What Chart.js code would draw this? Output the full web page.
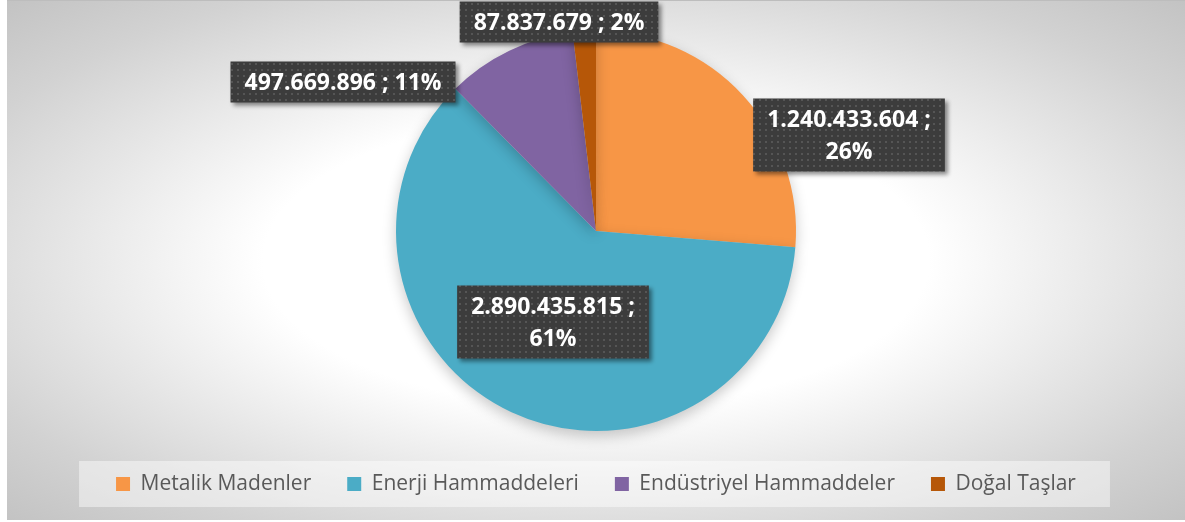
<!DOCTYPE html>
<html>
<head>
<meta charset="utf-8">
<script src="https://cdn.jsdelivr.net/npm/chart.js@4.4.0/dist/chart.umd.min.js"></script>
<style>
  html, body { margin: 0; padding: 0; background: #fff; }
  #wrap {
    position: absolute; left: 7px; top: 0; width: 1178px; height: 520px;
    border-top: 1px solid #bdbdbd; box-sizing: border-box;
    background: radial-gradient(ellipse farthest-corner at 50% 50%, #ffffff 0%, #ffffff 40%, #e4e4e4 65%, #d2d2d2 82%, #c3c3c3 100%);
  }
  canvas { display: block; }
</style>
</head>
<body>
<div id="wrap"><canvas id="pie" width="1178" height="519"></canvas></div>
<script>
const categories = ['Metalik Madenler', 'Enerji Hammaddeleri', 'Endüstriyel Hammaddeler', 'Doğal Taşlar'];
const values = [1240433604, 2890435815, 497669896, 87837679];
const colors = ['#F79646', '#4BACC6', '#8064A2', '#B65708'];

// label box centers, in pie-radius units from the pie centre
const labelLayout = [
    { x: 1.265, y: -0.48, wrap: true },
    { x: -0.215, y: 0.455, wrap: true },
    { x: -1.265, y: -0.745, wrap: false },
    { x: -0.185, y: -1.045, wrap: false },
];

const fmt = (v) => v.toString().replace(/\B(?=(\d{3})+(?!\d))/g, '.');

function makePattern(ctx) {
    const p = document.createElement('canvas');
    p.width = 6; p.height = 6;
    const pc = p.getContext('2d');
    pc.fillStyle = '#3c3c3c';
    pc.fillRect(0, 0, 6, 6);
    pc.fillStyle = '#555555';
    pc.fillRect(2, 2, 2, 2);
    return ctx.createPattern(p, 'repeat');
}

const pieShadow = {
    id: 'pieShadow',
    beforeDatasetDraw(chart) {
        const ctx = chart.ctx;
        ctx.save();
        ctx.shadowColor = 'rgba(0,0,0,0.22)';
        ctx.shadowBlur = 14;
        ctx.shadowOffsetY = 5;
    },
    afterDatasetDraw(chart) {
        chart.ctx.restore();
    }
};

const legendBox = {
    id: 'legendBox',
    beforeDraw(chart) {
        const lg = chart.legend;
        if (!lg || !lg.legendHitBoxes.length) return;
        const boxes = lg.legendHitBoxes;
        const left = boxes[0].left - 37;
        const right = boxes[boxes.length - 1].left + boxes[boxes.length - 1].width + 34;
        const cy = boxes[0].top + boxes[0].height / 2;
        const ctx = chart.ctx;
        ctx.save();
        ctx.fillStyle = 'rgba(255,255,255,0.45)';
        ctx.fillRect(left, cy - 23, right - left, 46);
        ctx.restore();
    }
};

const valueLabels = {
    id: 'valueLabels',
    afterDatasetsDraw(chart) {
        const ctx = chart.ctx;
        const meta = chart.getDatasetMeta(0);
        const total = values.reduce((a, b) => a + b, 0);
        const pattern = makePattern(ctx);
        ctx.save();
        ctx.font = 'bold 23px "Open Sans"';
        ctx.textAlign = 'center';
        ctx.textBaseline = 'middle';
        meta.data.forEach((arc, i) => {
            const lay = labelLayout[i];
            const r = arc.outerRadius;
            const cx = arc.x + lay.x * r;
            const cy = arc.y + lay.y * r;
            const pct = Math.round(values[i] / total * 100) + '%';
            const lines = lay.wrap ? [fmt(values[i]) + ' ;', pct] : [fmt(values[i]) + ' ; ' + pct];
            const lineH = 32;
            const w = Math.max(...lines.map(l => ctx.measureText(l).width)) + 28;
            const h = lines.length * lineH + 9;
            ctx.save();
            ctx.shadowColor = 'rgba(0,0,0,0.45)';
            ctx.shadowBlur = 4;
            ctx.shadowOffsetX = 3;
            ctx.shadowOffsetY = 3;
            ctx.fillStyle = pattern;
            ctx.fillRect(cx - w / 2, cy - h / 2, w, h);
            ctx.restore();
            ctx.fillStyle = '#ffffff';
            lines.forEach((l, k) => {
                ctx.fillText(l, cx, cy - h / 2 + 4.5 + lineH * k + lineH / 2 + 1);
            });
        });
        ctx.restore();
    }
};

new Chart(document.getElementById('pie').getContext('2d'), {
    type: 'pie',
    data: {
        labels: categories,
        datasets: [{
            data: values,
            backgroundColor: colors,
            borderWidth: 0,
        }]
    },
    options: {
        responsive: false,
        animation: false,
        layout: { padding: { top: 30, bottom: 15.5 } },
        plugins: {
            legend: {
                position: 'bottom',
                title: { display: true, text: '', font: { size: 1 }, padding: { top: 5.3, bottom: 0 } },
                labels: {
                    boxWidth: 14,
                    boxHeight: 14,
                    padding: 36,
                    color: '#595959',
                    font: { family: '"Open Sans"', size: 21 },
                }
            },
            tooltip: { enabled: false }
        }
    },
    plugins: [pieShadow, legendBox, valueLabels]
});
</script>
</body>
</html>
